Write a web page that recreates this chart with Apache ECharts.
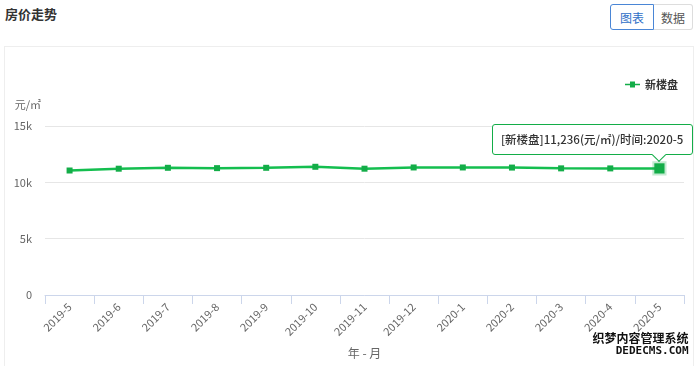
<!DOCTYPE html>
<html><head><meta charset="utf-8">
<script src="https://cdn.jsdelivr.net/npm/echarts@6/dist/echarts.min.js"></script>
<style>
html,body{margin:0;padding:0;width:700px;height:366px;overflow:hidden;background:#fff;font-family:"Noto Sans CJK SC","Noto Sans",sans-serif;}
#title{position:absolute;left:5px;top:4px;font-size:13px;font-weight:bold;color:#333;}
.btn{position:absolute;top:4px;height:26px;line-height:26px;font-size:12px;text-align:center;border:1px solid #ddd;box-sizing:border-box;color:#555;background:#fff;}
#b1{left:610px;width:44px;border-color:#4a86d6;color:#2f6fc7;border-radius:3px 0 0 3px;}
#b2{left:654px;width:39px;border-left:none;border-radius:0 3px 3px 0;}
#box{position:absolute;left:4px;top:46px;width:690px;height:330px;border:1px solid #eee;box-sizing:border-box;}
#chart{position:absolute;left:0;top:0;width:700px;height:366px;}
.arr{position:absolute;left:161px;bottom:-6px;width:9px;height:9px;background:#fff;border-right:1px solid #13ad48;border-bottom:1px solid #13ad48;transform:rotate(45deg);}
</style></head>
<body>
<div id="title">房价走势</div>
<div class="btn" id="b1">图表</div>
<div class="btn" id="b2">数据</div>
<div id="box"></div>
<div id="chart"></div>
<script>
const categories = ['2019-5','2019-6','2019-7','2019-8','2019-9','2019-10','2019-11','2019-12','2020-1','2020-2','2020-3','2020-4','2020-5'];
const newHomePrices = [11050,11210,11290,11260,11290,11380,11210,11320,11320,11310,11240,11236,11236];
const seriesName = '新楼盘';
const yTicks = {min:0, max:15000, interval:5000};

const chart = echarts.init(document.getElementById('chart'), null, {renderer:'canvas'});
const green = '#13ad48';
const font = '"Noto Sans CJK SC","Noto Sans",sans-serif';
chart.setOption({
  animation:false,
  textStyle:{fontFamily:font},
  legend:{right:17, top:74, itemWidth:15, itemHeight:6, itemGap:5,
    textStyle:{fontSize:11, color:'#333', fontWeight:'bold'},
    data:[{name:seriesName, icon:'path://M0,2.2 L5,2.2 L5,0 L10,0 L10,2.2 L15,2.2 L15,3.8 L10,3.8 L10,6 L5,6 L5,3.8 L0,3.8 Z'}]},
  grid:{left:45, right:16, top:126, bottom:71},
  tooltip:{trigger:'axis', alwaysShowContent:true,
    position:function(point){return [point[0]-167, point[1]-44];},
    backgroundColor:'#fff', borderColor:green, borderWidth:1, padding:[6,8],
    textStyle:{color:'#333', fontSize:11.5, fontFamily:font, fontWeight:500},
    axisPointer:{type:'none'},
    extraCssText:'border-radius:3px;box-shadow:none;width:183px;white-space:nowrap;font-weight:500;',
    formatter:function(p){const d=p[0];return '['+d.seriesName+']'+d.value.toLocaleString('en-US')+'(元/㎡)/时间:'+d.name+'<span class="arr"></span>';}
  },
  xAxis:{type:'category', data:categories, boundaryGap:true,
    name:'年 - 月', nameLocation:'middle', nameGap:52,
    nameTextStyle:{color:'#666', fontSize:12},
    axisLine:{lineStyle:{color:'#ccd6eb'}},
    axisTick:{show:true, length:9, lineStyle:{color:'#ccd6eb'}},
    axisLabel:{rotate:45, color:'#666', fontSize:11, margin:10}},
  yAxis:{type:'value', min:yTicks.min, max:yTicks.max, interval:yTicks.interval,
    name:'元/㎡', nameLocation:'end', nameGap:16,
    nameTextStyle:{color:'#666', fontSize:11, align:'right', padding:[0,4,0,0]},
    axisLine:{show:false}, axisTick:{show:false},
    axisLabel:{color:'#666', fontSize:11, margin:13, formatter:function(v){return v===0?'0':(v/1000)+'k';}},
    splitLine:{lineStyle:{color:'#e6e6e6'}}},
  series:[{name:seriesName, type:'line', data:newHomePrices,
    symbol:'rect', symbolSize:6, showAllSymbol:true,
    lineStyle:{color:green, width:2.5}, itemStyle:{color:green},
    emphasis:{scale:1.7, itemStyle:{color:green, borderColor:'rgba(19,173,72,0.25)', borderWidth:4}}
  }],
  graphic:[
    {type:'text', right:10, bottom:20, style:{text:'织梦内容管理系统', fontSize:12, fontWeight:'bold', fill:'#111', stroke:'#fff', lineWidth:3, fontFamily:font}},
    {type:'text', right:10, bottom:8, style:{text:'DEDECMS.COM', fontSize:11, fontWeight:'bold', fill:'#111', stroke:'#fff', lineWidth:3, fontFamily:'DejaVu Sans Mono', letterSpacing:1}}
  ]
});
setTimeout(function(){
  chart.dispatchAction({type:'showTip', seriesIndex:0, dataIndex:12});
},50);
</script>
</body></html>
